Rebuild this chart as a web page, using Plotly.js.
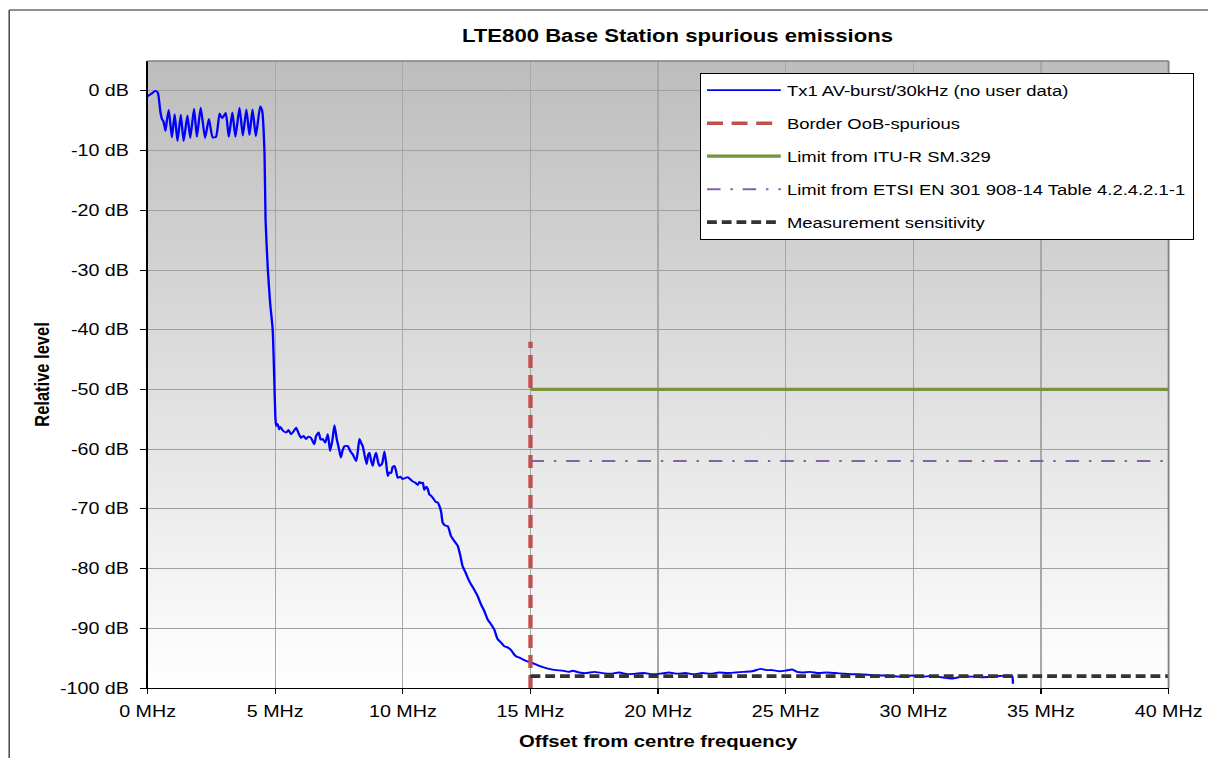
<!DOCTYPE html>
<html>
<head>
<meta charset="utf-8">
<script src="https://cdn.plot.ly/plotly-3.0.1.min.js"></script>
<style>
  html, body { margin: 0; padding: 0; background: #ffffff; overflow: hidden; }
  #chart { width: 982px; height: 758px; transform: scaleX(1.2301); transform-origin: 0 0; }
</style>
</head>
<body>
<div id="chart"></div>
<script>
// ---- Data ----
const txFreqMHz = [
  0, 0.15, 0.30, 0.40, 0.50, 0.57, 0.62, 0.70, 0.76, 0.83, 0.95, 1.06, 1.17, 1.30, 1.41, 1.56, 1.67, 1.82, 1.93, 2.08,
  2.25, 2.40, 2.55, 2.68, 2.82, 2.92, 3.06, 3.18, 3.32, 3.44, 3.60, 3.73, 3.87, 3.99, 4.11, 4.24, 4.41, 4.49, 4.58, 4.62,
  4.71, 4.80, 4.90, 4.96, 5.01, 5.04,
  5.10, 5.15, 5.20, 5.30, 5.43, 5.52, 5.62, 5.72, 5.82, 5.92, 6.01, 6.11, 6.21, 6.30, 6.40, 6.53, 6.60, 6.70, 6.78, 6.86,
  6.96, 7.06, 7.15, 7.24, 7.32, 7.41, 7.50, 7.57, 7.64, 7.71, 7.84, 7.95, 8.04, 8.17, 8.24, 8.30, 8.37, 8.43, 8.50, 8.58,
  8.64, 8.69, 8.76, 8.82, 8.88, 8.95, 9.02, 9.08, 9.18, 9.28, 9.35, 9.41, 9.47, 9.54, 9.60, 9.67, 9.73, 9.80, 9.90, 9.99,
  10.10, 10.19, 10.28, 10.38, 10.48, 10.58, 10.65, 10.71, 10.78, 10.84, 10.92, 10.97, 11.04, 11.10, 11.20, 11.30, 11.36,
  11.43, 11.50, 11.56, 11.66, 11.76, 11.88, 12.00, 12.15, 12.25, 12.34, 12.45, 12.60, 12.75, 12.93, 13.06, 13.20, 13.32,
  13.45, 13.58, 13.71, 13.85, 13.97, 14.10, 14.23, 14.33, 14.43, 14.56, 14.69, 14.85, 15.02, 15.18, 15.34, 15.55, 15.73,
  16.00, 16.26, 16.50, 16.65, 16.91,
  17.17, 17.50, 17.82, 18.15, 18.47, 18.80, 19.12, 19.45, 19.77, 20.10, 20.42, 20.75, 21.07, 21.40, 21.73, 22.05, 22.38,
  22.70, 23.03, 23.36, 23.69, 24.01, 24.25, 24.47, 24.75, 24.99, 25.25, 25.45, 25.64, 25.95, 26.29, 26.60, 26.94, 27.25,
  27.59, 27.90, 28.25, 28.55, 28.90, 29.20, 29.55, 29.95, 30.30, 30.74, 31.10, 31.52, 31.90, 32.30, 32.70, 33.08, 33.40,
  33.67, 33.87, 33.90
];
const txLevelDb = [
  -0.9, -0.5, 0.0, -0.3, -3.5, -4.8, -5.1, -6.7, -4.8, -3.2, -7.8, -3.9, -8.4, -4.0, -8.4, -4.1, -7.9, -3.0, -7.7, -2.8,
  -7.9, -4.7, -7.8, -7.7, -3.8, -4.6, -3.7, -7.7, -3.6, -7.7, -2.8, -7.5, -3.1, -7.4, -3.1, -7.6, -2.6, -3.4, -10.5, -21.5,
  -29.9, -35.5, -40.0, -48.0, -55.0, -56.1,
  -55.8, -56.7, -56.3, -56.9, -57.2, -56.8, -57.5, -57.0, -56.4, -57.4, -58.1, -57.8, -58.3, -57.9, -58.1, -59.2, -57.8, -57.2, -58.4, -58.3,
  -58.9, -57.5, -60.3, -58.5, -56.0, -58.3, -60.0, -61.4, -60.2, -59.5, -59.5, -60.4, -60.9, -62.0, -60.2, -58.3, -59.0, -59.5, -61.0, -62.5,
  -61.0, -60.6, -62.0, -62.8, -61.5, -60.6, -62.0, -62.8, -62.5, -60.4, -62.5, -64.5, -63.9, -64.0, -63.0, -62.8, -63.6, -64.8, -64.6, -65.0,
  -64.8, -64.7, -65.0, -65.4, -65.6, -66.0, -65.5, -65.7, -65.6, -66.8, -66.3, -66.6, -67.6, -67.8, -68.3, -68.9, -68.9,
  -69.5, -70.5, -72.3, -72.8, -72.9, -74.5, -75.3, -76.2, -77.8, -79.6, -80.6, -82.1, -83.2, -84.6, -86.0, -87.2, -88.5,
  -89.3, -90.2, -91.8, -92.4, -93.0, -93.2, -93.6, -94.2, -94.7, -94.9, -95.2, -95.5, -95.7, -96.0, -96.3, -96.6, -96.8,
  -97.0, -97.1, -97.3, -97.1, -97.4,
  -97.5, -97.3, -97.5, -97.6, -97.4, -97.7, -97.6, -97.5, -97.7, -97.6, -97.4, -97.6, -97.5, -97.7, -97.5, -97.6, -97.4,
  -97.5, -97.4, -97.3, -97.2, -96.8, -97.0, -97.0, -97.2, -97.1, -96.9, -97.3, -97.4, -97.3, -97.5, -97.4, -97.5, -97.6,
  -97.7, -97.7, -97.8, -97.9, -97.9, -98.0, -98.1, -97.9, -98.1, -98.0, -98.2, -98.4, -98.1, -98.1, -98.2, -98.1, -98.0,
  -97.9, -98.0, -99.3
];

const borderFreqMHz = [15, 15];
const borderLevelDb = [-100, -42];
const ituFreqMHz = [15, 40];
const ituLevelDb = [-50, -50];
const etsiFreqMHz = [15, 40];
const etsiLevelDb = [-62, -62];
const sensFreqMHz = [15, 40];
const sensLevelDb = [-98, -98];

const seriesNames = [
  "Tx1 AV-burst/30kHz (no user data)",
  "Border OoB-spurious",
  "Limit from ITU-R SM.329",
  "Limit from ETSI EN 301 908-14 Table 4.2.4.2.1-1",
  "Measurement sensitivity"
];

const xTickVals = [0, 5, 10, 15, 20, 25, 30, 35, 40];
const xTickText = ["0 MHz", "5 MHz", "10 MHz", "15 MHz", "20 MHz", "25 MHz", "30 MHz", "35 MHz", "40 MHz"];
const yTickVals = [0, -10, -20, -30, -40, -50, -60, -70, -80, -90, -100];
const yTickText = ["0 dB", "-10 dB", "-20 dB", "-30 dB", "-40 dB", "-50 dB", "-60 dB", "-70 dB", "-80 dB", "-90 dB", "-100 dB"];

// ---- Chart ----
const FONT = '"Liberation Sans", Arial, sans-serif';

const traces = [
  { x: txFreqMHz, y: txLevelDb, name: seriesNames[0], legendgroup: 'g1', mode: 'lines',
    line: { color: '#0000ff', width: 1.9, shape: 'spline', smoothing: 0.5 } },
  { x: borderFreqMHz, y: borderLevelDb, name: seriesNames[1], legendgroup: 'g2', mode: 'lines',
    line: { color: '#c0504d', width: 3.5, dash: '13px,7px' } },
  { x: ituFreqMHz, y: ituLevelDb, name: seriesNames[2], legendgroup: 'g3', mode: 'lines',
    line: { color: '#77933c', width: 3.3 } },
  { x: etsiFreqMHz, y: etsiLevelDb, name: seriesNames[3], legendgroup: 'g4', mode: 'lines',
    line: { color: '#8064a2', width: 2, dash: '11px,8px,2px,8px' } },
  { x: sensFreqMHz, y: sensLevelDb, name: seriesNames[4], legendgroup: 'g5', mode: 'lines',
    line: { color: '#333333', width: 3.8, dash: '8px,4px' } }
];

const gradSvg = '<svg xmlns="http://www.w3.org/2000/svg" width="10" height="100" preserveAspectRatio="none">' +
  '<defs><linearGradient id="g" x1="0" y1="0" x2="0" y2="1">' +
  '<stop offset="0" stop-color="#bdbdbd"/><stop offset="1" stop-color="#ffffff"/>' +
  '</linearGradient></defs><rect width="10" height="100" fill="url(#g)"/></svg>';

const layout = {
  width: 982,
  height: 758,
  margin: { l: 120, r: 31, t: 61, b: 70 },
  paper_bgcolor: '#ffffff',
  plot_bgcolor: '#ffffff',
  font: { family: FONT, size: 16, color: '#000000' },
  title: {
    text: '<b>LTE800 Base Station spurious emissions</b>',
    font: { family: FONT, size: 18, color: '#000000' },
    x: 0.519, xref: 'paper', xanchor: 'center',
    y: 0.953, yref: 'container', yanchor: 'middle'
  },
  xaxis: {
    range: [0, 40],
    tickmode: 'array', tickvals: xTickVals, ticktext: xTickText,
    ticks: 'outside', ticklen: 5, tickcolor: '#000000', tickwidth: 1,
    ticklabelstandoff: 4,
    showgrid: true, gridcolor: '#a8a8a8', gridwidth: 1,
    zeroline: false,
    showline: true, linecolor: '#000000', linewidth: 1,
    tickfont: { family: FONT, size: 16, color: '#000000' },
    title: { text: '<b>Offset from centre frequency</b>', font: { family: FONT, size: 16.5, color: '#000000' }, standoff: 16 }
  },
  yaxis: {
    range: [-100, 5],
    tickmode: 'array', tickvals: yTickVals, ticktext: yTickText,
    ticks: 'outside', ticklen: 5, tickcolor: '#000000', tickwidth: 1,
    ticklabelstandoff: 6,
    showgrid: true, gridcolor: '#a0a0a0', gridwidth: 1,
    zeroline: false,
    showline: true, linecolor: '#000000', linewidth: 1,
    tickfont: { family: FONT, size: 16, color: '#000000' },
    title: { text: '<b>Relative level</b>', font: { family: FONT, size: 16.5, color: '#000000' }, standoff: 4 }
  },
  legend: {
    x: 0.540, xanchor: 'left',
    y: 0.981, yanchor: 'top',
    bgcolor: '#ffffff', bordercolor: '#000000', borderwidth: 1,
    font: { family: FONT, size: 15, color: '#000000' },
    traceorder: 'grouped', tracegroupgap: 10.5,
    itemwidth: 60
  },
  images: [{
    source: 'data:image/svg+xml;charset=utf-8,' + encodeURIComponent(gradSvg),
    xref: 'paper', yref: 'paper', x: 0, y: 1, sizex: 1, sizey: 1,
    xanchor: 'left', yanchor: 'top', sizing: 'stretch', layer: 'below'
  }],
  shapes: [
    // plot-area top and right frame (grey)
    { type: 'line', xref: 'paper', yref: 'paper', x0: 0, x1: 1, y0: 1, y1: 1, line: { color: '#808080', width: 1.5 } },
    { type: 'line', xref: 'paper', yref: 'paper', x0: 1, x1: 1, y0: 0, y1: 1, line: { color: '#808080', width: 1.5 } },
    // outer chart frame (top and left)
    { type: 'line', xref: 'paper', yref: 'paper', x0: -0.1356, x1: 1.05, y0: 1.0813, y1: 1.0813, line: { color: '#202020', width: 1 } },
    { type: 'line', xref: 'paper', yref: 'paper', x0: -0.1356, x1: -0.1356, y0: -0.2, y1: 1.0813, line: { color: '#202020', width: 1 } }
  ],
  showlegend: true
};

Plotly.newPlot('chart', traces, layout, { displayModeBar: false, staticPlot: true });
</script>
</body>
</html>
